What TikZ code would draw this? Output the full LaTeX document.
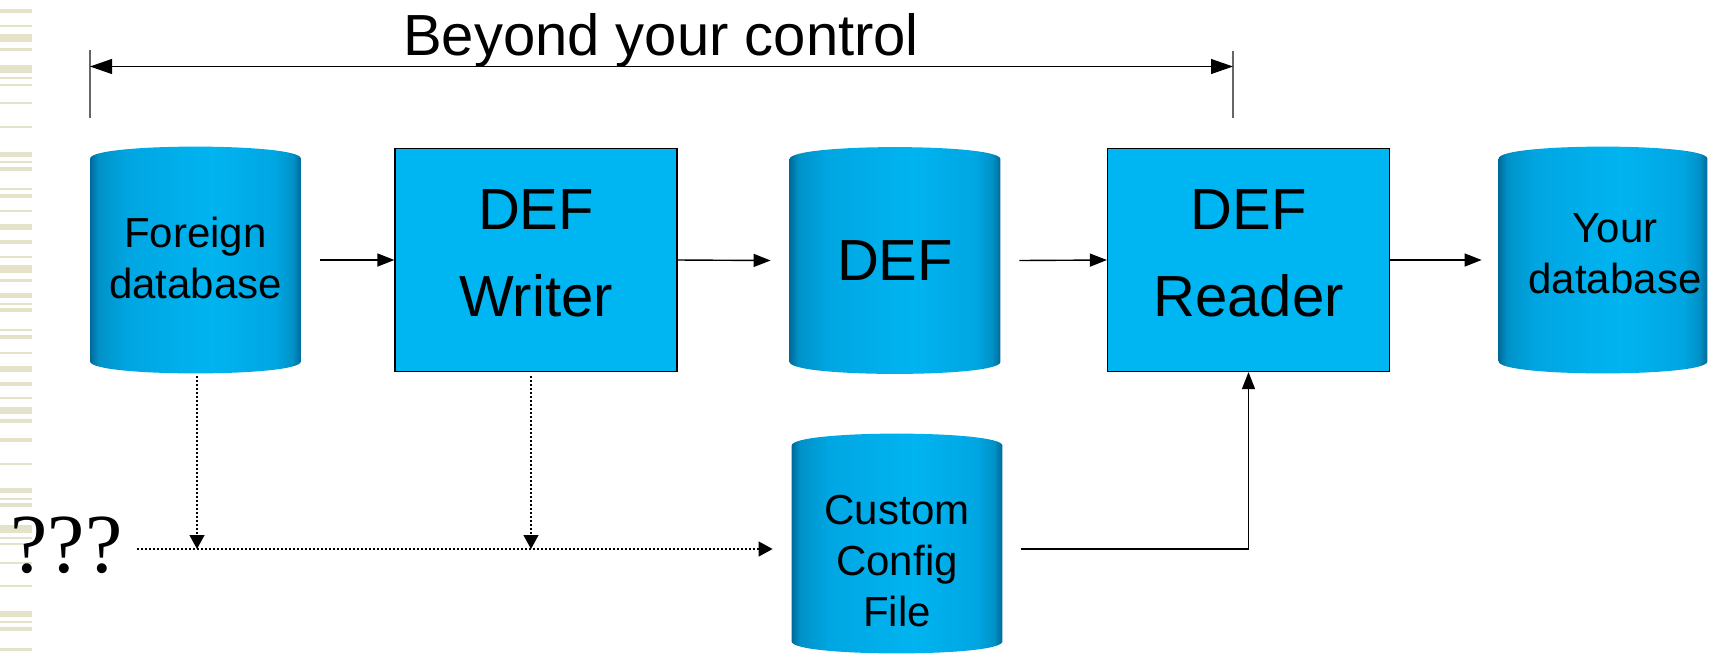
\documentclass[tikz,border=0pt]{standalone}
\usepackage{fontspec}
\setmainfont{Liberation Sans}
\newfontfamily\qmfont{Liberation Serif}
\usetikzlibrary{positioning,backgrounds,arrows.meta}

\definecolor{boxblue}{RGB}{0,182,242}
\definecolor{stripecol}{RGB}{228,226,200}
\definecolor{cyledge}{RGB}{0,106,154}
\definecolor{cylmid}{RGB}{0,146,200}
\definecolor{cylsoft}{RGB}{0,166,226}
\definecolor{cyllight}{RGB}{0,180,240}
\pgfdeclarehorizontalshading{cylshade}{100bp}{color(0bp)=(cyledge); color(25bp)=(cyledge); color(27bp)=(cylmid); color(34bp)=(cylsoft); color(54bp)=(cyllight); color(69bp)=(cylsoft); color(73bp)=(cylmid); color(75bp)=(cyledge); color(100bp)=(cyledge)}

\tikzset{
  flow/.style={-{Triangle[length=8.5pt,width=6.5pt]},line width=0.7pt},
  dotflow/.style={-{Triangle[length=7pt,width=7.5pt]},line width=0.6pt,dash pattern=on 1pt off 1pt},
  span/.style={{Triangle[length=11pt,width=7.5pt]}-{Triangle[length=11pt,width=7.5pt]},line width=0.5pt},
  tick/.style={black!60,line width=0.6pt},
  stepbox/.style={draw,fill=boxblue,line width=0.6pt,minimum width=141pt,minimum height=111.5pt,text depth=7pt,align=center,font=\fontsize{29}{35.5}\selectfont},
  dbcyl/.style={inner sep=0,minimum width=105pt,minimum height=101pt},
  dbtext/.style={align=center,font=\fontsize{21}{25.5}\selectfont},
}

\begin{document}
\begin{tikzpicture}[x=0.5pt,y=-0.5pt]
\useasboundingbox (0,0) rectangle (1709,655);

% stripes on the left edge
\foreach \ya/\yb in {9/12.5,25/27,34/42,48/51,65/73,77/79,84/86,102/104,126/128,152/157,161/163,167/171,188/190,194/198,210/212,224/230,240/244,256/258,265/273,279/282,293/298,303/305,308/312,329/331,335/339,352/354,366/372,382/386,397/399,407/414,419/423,438/442,463/465,488/493,498/500,503/507,525/533,537/539,543/545,562/564,585/587,611/617,621/623,627/631,648/651}
  \fill[stripecol] (0,\ya) rectangle (32,\yb);

\node[font=\fontsize{29}{35}\selectfont,anchor=base] (beyond) at (661,55) {Beyond your control};
\coordinate (spanL) at (90,66.5);
\coordinate (spanR) at (1233,66.5);
\draw[tick] (90,50) -- (90,118);
\draw[tick] (1233,51) -- (1233,118);
\draw[span] (spanL) -- (spanR);

% main row
\node[dbcyl,label={[dbtext,yshift=1pt]center:{Foreign\\database}}] (fdb) at (195.5,260) {};
\node[stepbox] (wr) at (536,260) {DEF\\[8pt]Writer};
\node[dbcyl,label={[dbtext,font=\fontsize{29}{35}\selectfont]center:DEF}] (def) at (895,260.5) {};
\node[stepbox] (rd) at (1248.5,260) {DEF\\[8pt]Reader};
\node[dbcyl,minimum width=104pt,label={[dbtext,xshift=6pt,yshift=3pt]center:{Your\\database}}] (ydb) at (1603,260) {};
\node[dbcyl,minimum height=97.5pt,label={[dbtext,yshift=-9pt]center:{Custom\\Config\\File}}] (cfg) at (897,543.5) {};

\node[font=\qmfont\fontsize{42}{50}\selectfont,anchor=base] (qm) at (66.5,572) {???};
\coordinate (bus) at (137,549);

% cylinder bodies
\begin{scope}[on background layer]
\foreach \c in {fdb,def,ydb,cfg}
  \shade[shading=cylshade] (\c.north west) .. controls ([yshift=8pt]\c.north west) and ([yshift=8pt]\c.north east) .. (\c.north east)
    -- (\c.south east) .. controls ([yshift=-8pt]\c.south east) and ([yshift=-8pt]\c.south west) .. (\c.south west) -- cycle;
\end{scope}

\draw[flow] ([xshift=9.5pt]fdb.east) -- (wr.west);
\draw[flow] (wr.east) -- ([xshift=-9.5pt]def.west);
\draw[flow] ([xshift=9.5pt]def.east) -- (rd.west);
\draw[flow] (rd.east) -- ([xshift=-8.5pt]ydb.west);
\draw[flow] ([xshift=9.5pt]cfg.east |- bus) -| (rd.south);

\draw[dotflow] (bus) -- ([xshift=-9.5pt]cfg.west |- bus);
\draw[dotflow] ([xshift=0.75pt,yshift=-7.5pt]fdb.south) -- ([xshift=0.75pt]fdb.south |- bus);
\draw[dotflow] ([xshift=-2.5pt,yshift=-2pt]wr.south) -- ([xshift=-2.5pt]wr.south |- bus);
\end{tikzpicture}
\end{document}
